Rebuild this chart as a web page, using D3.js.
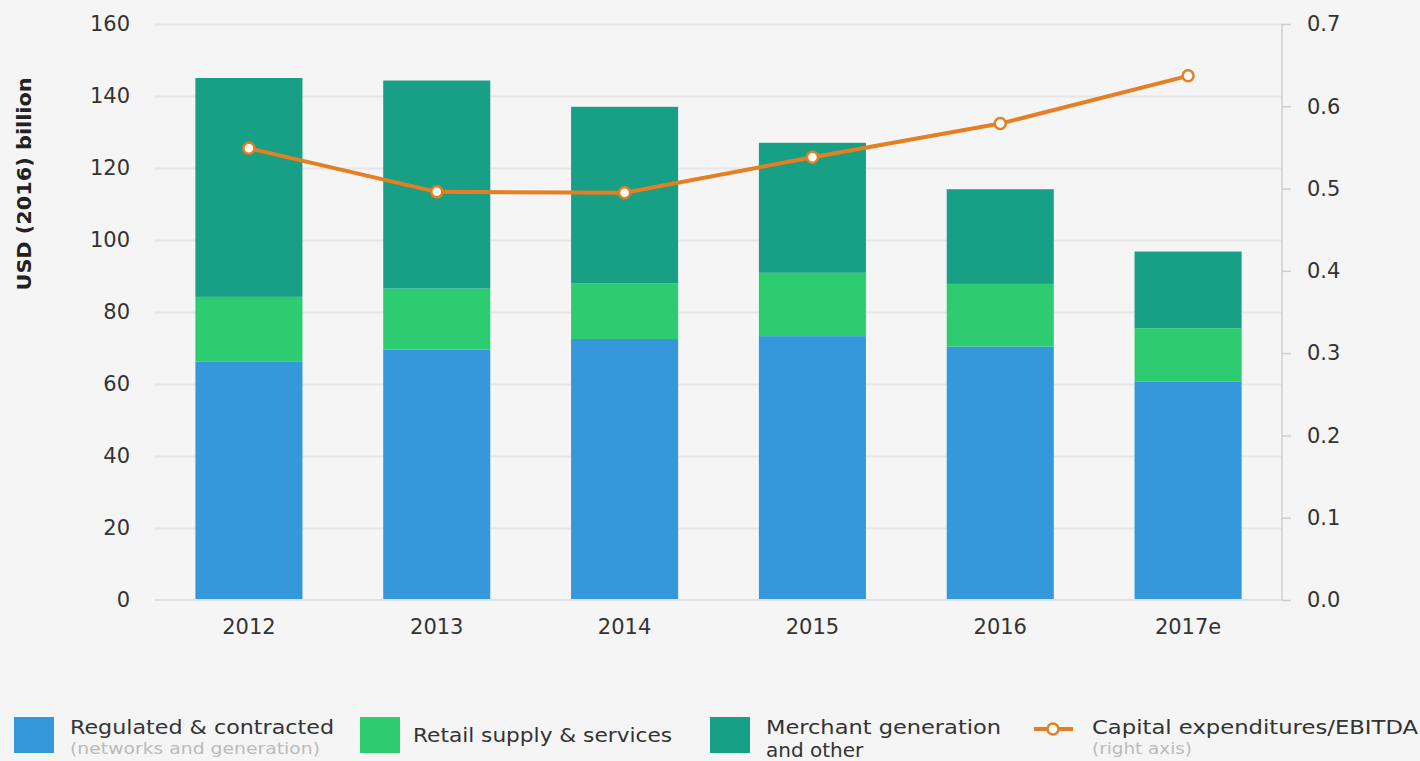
<!DOCTYPE html>
<html>
<head>
<meta charset="utf-8">
<script src="https://cdn.jsdelivr.net/npm/d3@7"></script>
<style>
    body { margin: 0; background: #f5f5f5; }
    svg { display: block; font-family: "DejaVu Sans", sans-serif; }
    .grid line { stroke: #e6e6e6; stroke-width: 2; }
    .grid path { display: none; }
    .tick text { fill: #333; }
</style>
</head>
<body>
<div id="chart"></div>
<script>
// data
var years = ["2012", "2013", "2014", "2015", "2016", "2017e"];
var regulated = [66.3, 69.6, 72.5, 73.3, 70.4, 60.6];
var retail = [17.9, 16.9, 15.5, 17.6, 17.4, 14.9];
var merchant = [60.8, 57.8, 49.0, 36.1, 26.3, 21.3];
var capexRatio = [0.549, 0.496, 0.495, 0.538, 0.579, 0.637];
var leftTicks = [0, 20, 40, 60, 80, 100, 120, 140, 160];
var rightTicks = [0, 0.1, 0.2, 0.3, 0.4, 0.5, 0.6, 0.7];

var keys = ["regulated", "retail", "merchant"];
var colors = ["#3498db", "#2ecc71", "#17a085"];
var orange = "#e67e22";

function drawChart() {
    var w = 1420;
    var h = 761;
    var left = 155, right = 1282, top = 24, bottom = 600;

    // build rows for the stack
    var dataset = years.map(function(y, i) {
        return { year: y, regulated: regulated[i], retail: retail[i], merchant: merchant[i], capex: capexRatio[i] };
    });

    var xScale = d3.scaleBand()
        .domain(years)
        .range([left, right])
        .paddingInner(0.43)
        .paddingOuter(0.215);
    var yScale = d3.scaleLinear()
        .domain([0, 160])
        .range([bottom, top]);
    var y2Scale = d3.scaleLinear()
        .domain([0, 0.7])
        .range([bottom, top]);

    var svg = d3.select("#chart")
        .append("svg")
        .attr("width", w)
        .attr("height", h);

    svg.append("rect").attr("width", w).attr("height", h).attr("fill", "#f5f5f5");

    // gridlines
    svg.append("g")
        .attr("class", "grid")
        .attr("transform", "translate(" + left + ",0)")
        .call(d3.axisLeft(yScale)
            .tickValues(leftTicks.slice(1))
            .tickSize(-(right - left))
            .tickFormat(""));

    // stacked bars
    var stack = d3.stack().keys(keys);
    var layers = stack(dataset);
    svg.selectAll(".layer")
        .data(layers)
        .enter()
        .append("g")
        .attr("class", "layer")
        .attr("fill", function(d, i) { return colors[i]; })
        .selectAll("rect")
        .data(function(d) { return d; })
        .enter()
        .append("rect")
        .attr("x", function(d) { return xScale(d.data.year); })
        .attr("y", function(d) { return yScale(d[1]); })
        .attr("width", xScale.bandwidth())
        .attr("height", function(d) { return yScale(d[0]) - yScale(d[1]); });

    // baseline
    svg.append("line")
        .attr("x1", left).attr("x2", right)
        .attr("y1", bottom).attr("y2", bottom)
        .attr("stroke", "#e0e0e0")
        .attr("stroke-width", 2);

    // left axis labels
    var yAxis = d3.axisLeft(yScale)
        .tickValues(leftTicks)
        .tickSize(0)
        .tickPadding(25);
    var gy = svg.append("g")
        .attr("transform", "translate(" + left + ",0)")
        .call(yAxis);
    gy.select(".domain").remove();
    gy.selectAll("text").style("font-size", "21px").style("font-family", "DejaVu Sans");

    // right axis
    var y2Axis = d3.axisRight(y2Scale)
        .tickValues(rightTicks)
        .tickFormat(d3.format(".1f"))
        .tickSize(9)
        .tickPadding(16);
    var gy2 = svg.append("g")
        .attr("transform", "translate(" + right + ",0)")
        .call(y2Axis);
    gy2.select(".domain").attr("stroke", "#cfcfcf").attr("stroke-width", 1.5).attr("d", "M0," + top + "V" + bottom);
    gy2.selectAll(".tick line").attr("stroke", "#cfcfcf").attr("stroke-width", 1.5);
    gy2.selectAll("text").style("font-size", "21px").style("font-family", "DejaVu Sans");

    // x axis labels
    var xAxis = d3.axisBottom(xScale).tickSize(0).tickPadding(19);
    var gx = svg.append("g")
        .attr("transform", "translate(0," + bottom + ")")
        .call(xAxis);
    gx.select(".domain").remove();
    gx.selectAll("text").style("font-size", "21px").style("font-family", "DejaVu Sans");

    // capex / EBITDA line
    var line = d3.line()
        .x(function(d) { return xScale(d.year) + xScale.bandwidth() / 2; })
        .y(function(d) { return y2Scale(d.capex); });
    svg.append("path")
        .datum(dataset)
        .attr("fill", "none")
        .attr("stroke", orange)
        .attr("stroke-width", 4)
        .attr("stroke-linejoin", "round")
        .attr("d", line);
    svg.selectAll(".dot")
        .data(dataset)
        .enter()
        .append("circle")
        .attr("class", "dot")
        .attr("cx", function(d) { return xScale(d.year) + xScale.bandwidth() / 2; })
        .attr("cy", function(d) { return y2Scale(d.capex); })
        .attr("r", 5.5)
        .attr("fill", "#fff")
        .attr("stroke", orange)
        .attr("stroke-width", 2.5);

    // y axis title
    svg.append("text")
        .attr("transform", "translate(31,184) rotate(-90)")
        .attr("text-anchor", "middle")
        .attr("textLength", 213)
        .attr("lengthAdjust", "spacingAndGlyphs")
        .style("font-size", "20px")
        .style("font-weight", "bold")
        .attr("fill", "#222")
        .text("USD (2016) billion");

    // legend
    var legend = [
        { x: 14, label: "Regulated & contracted", sub: "(networks and generation)", color: colors[0], tx: 70, tw: 264 },
        { x: 360, label: "Retail supply & services", sub: null, color: colors[1], tx: 413, tw: 259 },
        { x: 710, label: "Merchant generation", sub: "and other", color: colors[2], tx: 766, tw: 235 },
    ];
    var lg = svg.selectAll(".legend")
        .data(legend)
        .enter()
        .append("g")
        .attr("class", "legend");
    lg.append("rect")
        .attr("x", function(d) { return d.x; })
        .attr("y", 717)
        .attr("width", 40)
        .attr("height", 36)
        .attr("fill", function(d) { return d.color; });
    lg.append("text")
        .attr("x", function(d) { return d.tx; })
        .attr("y", function(d) { return d.sub ? 734 : 742; })
        .attr("textLength", function(d) { return d.tw; })
        .attr("lengthAdjust", "spacingAndGlyphs")
        .style("font-size", "20px")
        .attr("fill", "#333")
        .text(function(d) { return d.label; });
    lg.filter(function(d) { return d.sub == "and other"; })
        .append("text")
        .attr("x", function(d) { return d.tx; })
        .attr("y", 757)
        .style("font-size", "20px")
        .attr("fill", "#333")
        .text(function(d) { return d.sub; });
    lg.filter(function(d) { return d.sub == "(networks and generation)"; })
        .append("text")
        .attr("x", function(d) { return d.tx; })
        .attr("y", 754)
        .attr("textLength", 250)
        .attr("lengthAdjust", "spacingAndGlyphs")
        .style("font-size", "15px")
        .attr("fill", "#bbb")
        .text(function(d) { return d.sub; });

    // line legend
    svg.append("line")
        .attr("x1", 1034).attr("x2", 1073)
        .attr("y1", 729).attr("y2", 729)
        .attr("stroke", orange)
        .attr("stroke-width", 4);
    svg.append("circle")
        .attr("cx", 1053).attr("cy", 729)
        .attr("r", 5.5)
        .attr("fill", "#fff")
        .attr("stroke", orange)
        .attr("stroke-width", 2.5);
    svg.append("text")
        .attr("x", 1092).attr("y", 734)
        .attr("textLength", 326)
        .attr("lengthAdjust", "spacingAndGlyphs")
        .style("font-size", "20px")
        .attr("fill", "#333")
        .text("Capital expenditures/EBITDA");
    svg.append("text")
        .attr("x", 1092).attr("y", 754)
        .attr("textLength", 100)
        .attr("lengthAdjust", "spacingAndGlyphs")
        .style("font-size", "15px")
        .attr("fill", "#bbb")
        .text("(right axis)");
}

drawChart();
</script>
</body>
</html>
